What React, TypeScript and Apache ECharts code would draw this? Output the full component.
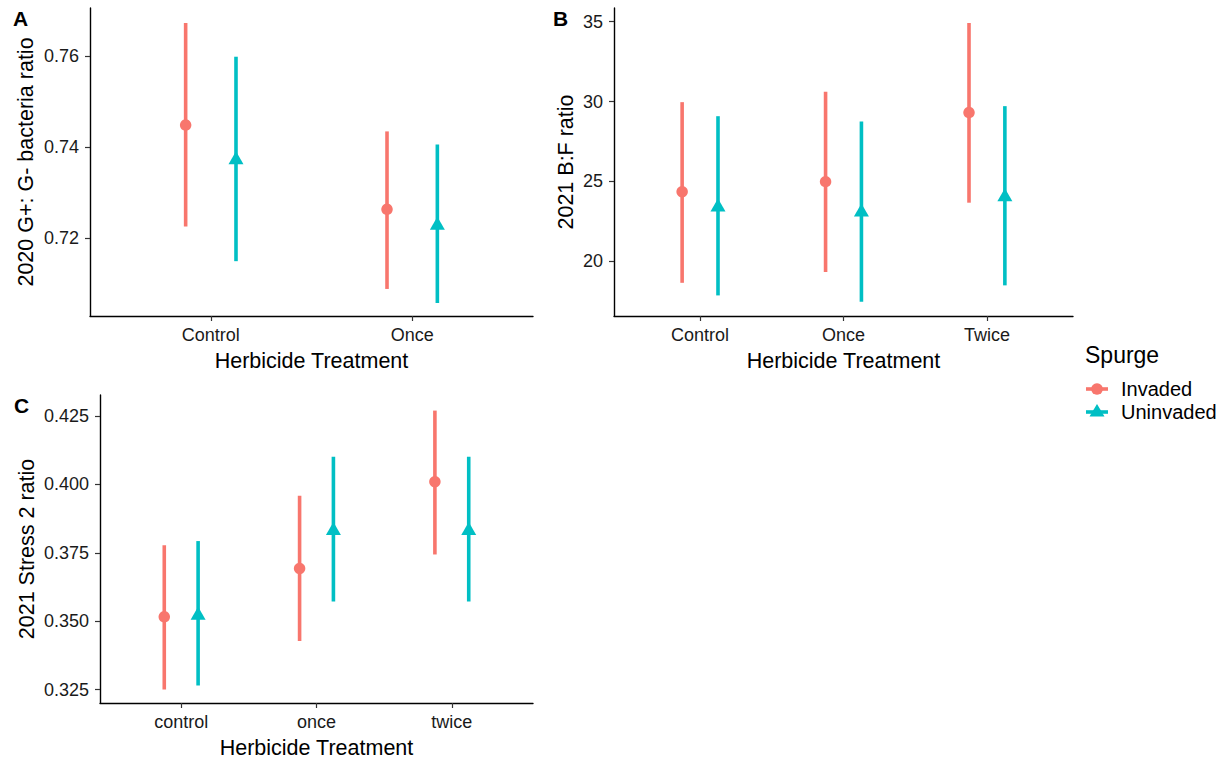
import React, { useEffect, useRef } from "react";
import * as echarts from "echarts";

// ---------- Data ----------
const groups = ["Invaded", "Uninvaded"];
const colors = ["#F8766D", "#00BFC4"];

// Panel A: 2020 G+: G- bacteria ratio
const categoriesA = ["Control", "Once"];
const invadedMeanA = [0.7449, 0.7264];
const invadedLowA = [0.7226, 0.7089];
const invadedHighA = [0.7673, 0.7435];
const uninvadedMeanA = [0.7373, 0.7229];
const uninvadedLowA = [0.715, 0.7058];
const uninvadedHighA = [0.7599, 0.7406];
const yTicksA = [0.72, 0.74, 0.76];

// Panel B: 2021 B:F ratio
const categoriesB = ["Control", "Once", "Twice"];
const invadedMeanB = [24.35, 24.98, 29.31];
const invadedLowB = [18.64, 19.32, 23.66];
const invadedHighB = [29.96, 30.61, 34.92];
const uninvadedMeanB = [23.39, 23.08, 24.04];
const uninvadedLowB = [17.85, 17.45, 18.48];
const uninvadedHighB = [29.08, 28.75, 29.71];
const yTicksB = [20, 25, 30, 35];

// Panel C: 2021 Stress 2 ratio
const categoriesC = ["control", "once", "twice"];
const invadedMeanC = [0.3516, 0.3693, 0.401];
const invadedLowC = [0.325, 0.3428, 0.3744];
const invadedHighC = [0.3778, 0.3959, 0.427];
const uninvadedMeanC = [0.3522, 0.3832, 0.3832];
const uninvadedLowC = [0.3265, 0.3572, 0.3572];
const uninvadedHighC = [0.3793, 0.4101, 0.4101];
const yTicksC = [0.325, 0.35, 0.375, 0.4, 0.425];

const FONT = "'Liberation Sans', Arial, Helvetica, sans-serif";
const DODGE = 0.125;

type Panel = {
  cats: string[];
  mean: number[][];
  low: number[][];
  high: number[][];
  yTicks: number[];
  yMin: number;
  yMax: number;
  digits: number;
  yTitle: string;
  grid: { left: number; top: number; width: number; height: number };
  yNameGap: number;
};

const panels: Panel[] = [
  {
    cats: categoriesA,
    mean: [invadedMeanA, uninvadedMeanA],
    low: [invadedLowA, uninvadedLowA],
    high: [invadedHighA, uninvadedHighA],
    yTicks: yTicksA,
    yMin: 0.70296,
    yMax: 0.7706,
    digits: 2,
    yTitle: "2020 G+: G- bacteria ratio",
    grid: { left: 90, top: 8, width: 443, height: 308 },
    yNameGap: 53,
  },
  {
    cats: categoriesB,
    mean: [invadedMeanB, uninvadedMeanB],
    low: [invadedLowB, uninvadedLowB],
    high: [invadedHighB, uninvadedHighB],
    yTicks: yTicksB,
    yMin: 16.56,
    yMax: 35.86,
    digits: 0,
    yTitle: "2021 B:F ratio",
    grid: { left: 614, top: 8, width: 459, height: 308 },
    yNameGap: 37,
  },
  {
    cats: categoriesC,
    mean: [invadedMeanC, uninvadedMeanC],
    low: [invadedLowC, uninvadedLowC],
    high: [invadedHighC, uninvadedHighC],
    yTicks: yTicksC,
    yMin: 0.3201,
    yMax: 0.4327,
    digits: 3,
    yTitle: "2021 Stress 2 ratio",
    grid: { left: 100, top: 395, width: 433, height: 308 },
    yNameGap: 62,
  },
];

function buildOption() {
  const grid: any[] = [];
  const xAxis: any[] = [];
  const yAxis: any[] = [];
  const series: any[] = [];

  panels.forEach((p, pi) => {
    grid.push({ ...p.grid, containLabel: false });
    const ticksX = p.cats.map((_, i) => i + 1);
    xAxis.push({
      type: "value",
      gridIndex: pi,
      min: 0.4,
      max: p.cats.length + 0.6,
      name: "Herbicide Treatment",
      nameLocation: "middle",
      nameGap: 34,
      nameTextStyle: { fontFamily: FONT, fontSize: 21.5, color: "#000" },
      axisLine: { show: true, onZero: false, lineStyle: { color: "#000", width: 1.4 } },
      axisTick: { show: true, length: 5, customValues: ticksX, lineStyle: { color: "#333", width: 1.2 } },
      axisLabel: {
        show: true,
        customValues: ticksX,
        margin: 10,
        fontFamily: FONT,
        fontSize: 18,
        color: "#1a1a1a",
        formatter: (v: number) => p.cats[Math.round(v) - 1] ?? "",
      },
      splitLine: { show: false },
    });
    yAxis.push({
      type: "value",
      gridIndex: pi,
      min: p.yMin,
      max: p.yMax,
      name: p.yTitle,
      nameLocation: "middle",
      nameGap: p.yNameGap,
      nameRotate: 90,
      nameTextStyle: { fontFamily: FONT, fontSize: 21.5, color: "#000" },
      axisLine: { show: true, onZero: false, lineStyle: { color: "#000", width: 1.4 } },
      axisTick: { show: true, length: 5, customValues: p.yTicks, lineStyle: { color: "#333", width: 1.2 } },
      axisLabel: {
        show: true,
        customValues: p.yTicks,
        margin: 11,
        fontFamily: FONT,
        fontSize: 18,
        color: "#1a1a1a",
        formatter: (v: number) => v.toFixed(p.digits),
      },
      splitLine: { show: false },
    });

    groups.forEach((g, gi) => {
      const off = gi === 0 ? -DODGE : DODGE;
      series.push({
        type: "custom",
        name: g + " range " + pi,
        xAxisIndex: pi,
        yAxisIndex: pi,
        data: p.cats.map((_, i) => [i + 1 + off, p.low[gi][i], p.high[gi][i]]),
        encode: { x: 0, y: [1, 2] },
        renderItem: (params: any, api: any) => {
          const x = api.value(0);
          const a = api.coord([x, api.value(1)]);
          const b = api.coord([x, api.value(2)]);
          return {
            type: "line",
            shape: { x1: a[0], y1: a[1], x2: b[0], y2: b[1] },
            style: { stroke: colors[gi], lineWidth: 3.6, lineCap: "butt" },
          };
        },
        silent: true,
      });
      series.push({
        type: "scatter",
        name: g + " " + pi,
        xAxisIndex: pi,
        yAxisIndex: pi,
        data: p.cats.map((_, i) => [i + 1 + off, p.mean[gi][i]]),
        symbol: gi === 0 ? "circle" : "triangle",
        symbolSize: gi === 0 ? 11.5 : [15, 13],
        symbolOffset: gi === 0 ? [0, 0] : [0, -2],
        itemStyle: { color: colors[gi], opacity: 1 },
        silent: true,
      });
    });
  });

  const letterStyle = { font: `bold 21px ${FONT}`, fill: "#000", textVerticalAlign: "middle", textAlign: "left" };
  const graphic: any[] = [
    { type: "text", x: 13, y: 18, style: { ...letterStyle, text: "A" } },
    { type: "text", x: 553, y: 18, style: { ...letterStyle, text: "B" } },
    { type: "text", x: 14, y: 405, style: { ...letterStyle, text: "C" } },
    {
      type: "text",
      x: 1085,
      y: 355,
      style: { text: "Spurge", font: `23px ${FONT}`, fill: "#000", textVerticalAlign: "middle" },
    },
  ];
  groups.forEach((g, gi) => {
    const cy = gi === 0 ? 389 : 412;
    graphic.push({
      type: "line",
      shape: { x1: 1086, y1: cy, x2: 1108, y2: cy },
      style: { stroke: colors[gi], lineWidth: 3.6 },
    });
    if (gi === 0) {
      graphic.push({ type: "circle", shape: { cx: 1097, cy, r: 5.8 }, style: { fill: colors[gi] } });
    } else {
      graphic.push({
        type: "polygon",
        shape: { points: [[1097, cy - 8], [1104.5, cy + 4.5], [1089.5, cy + 4.5]] },
        style: { fill: colors[gi] },
      });
    }
    graphic.push({
      type: "text",
      x: 1121,
      y: cy,
      style: { text: g, font: `20px ${FONT}`, fill: "#000", textVerticalAlign: "middle" },
    });
  });

  return {
    animation: false,
    backgroundColor: "#fff",
    textStyle: { fontFamily: FONT },
    grid,
    xAxis,
    yAxis,
    series,
    graphic,
  };
}

export default function App() {
  const ref = useRef<HTMLDivElement>(null);
  useEffect(() => {
    if (!ref.current) return;
    const chart = echarts.init(ref.current, undefined, { renderer: "svg" });
    chart.setOption(buildOption() as any);
    return () => chart.dispose();
  }, []);
  return (
    <div
      ref={ref}
      style={{ position: "absolute", left: 0, top: 0, width: 1224, height: 761, background: "#fff" }}
    />
  );
}
